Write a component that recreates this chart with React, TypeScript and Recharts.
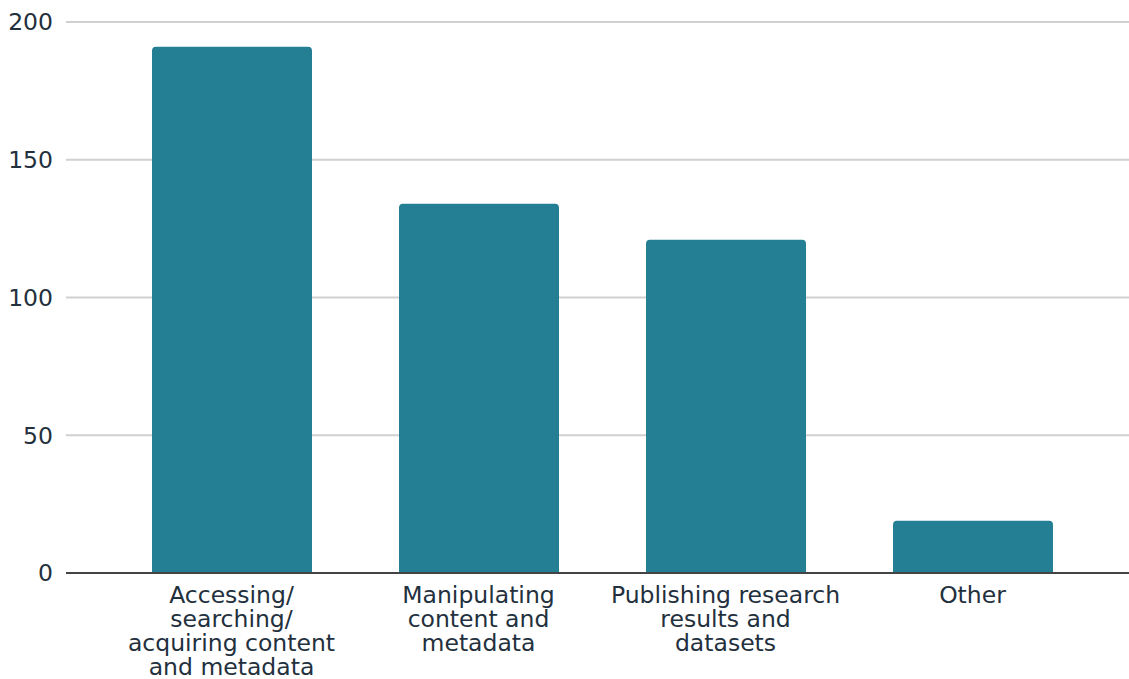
import { BarChart, Bar, XAxis, YAxis, CartesianGrid } from 'recharts'

const CATEGORIES = [
  'Accessing/searching/acquiring content and metadata',
  'Manipulating content and metadata',
  'Publishing research results and datasets',
  'Other',
]

// how the reference breaks each category label
const LABEL_LINES = [
  ['Accessing/', 'searching/', 'acquiring content', 'and metadata'],
  ['Manipulating', 'content and', 'metadata'],
  ['Publishing research', 'results and', 'datasets'],
  ['Other'],
]

const COUNTS = [191, 134, 121, 19]

const Y_TICKS = [0, 50, 100, 150, 200]

const TEXT_COLOR = '#23303d'
const FONT = '"DejaVu Sans", Verdana, sans-serif'

const data = CATEGORIES.map((name, i) => ({ name, value: COUNTS[i], idx: i }))

function CategoryTick({ x, y, index }: any) {
  const lines = LABEL_LINES[index] ?? []
  return (
    <text
      x={x}
      y={y}
      textAnchor="middle"
      fill={TEXT_COLOR}
      fontSize={23.5}
      fontFamily={FONT}
    >
      {lines.map((line, i) => (
        <tspan key={i} x={x} dy={i === 0 ? 29.5 : 24.3}>
          {line}
        </tspan>
      ))}
    </text>
  )
}

export default function App() {
  return (
    <div style={{ position: 'absolute', left: 0, top: 0, background: '#fff' }}>
      <BarChart
        width={1129}
        height={679}
        data={data}
        margin={{ top: 22, right: 0, left: 0, bottom: 0 }}
        barSize={160}
      >
        <CartesianGrid vertical={false} stroke="#d0d0d0" strokeWidth={2} />
        <XAxis
          dataKey="name"
          height={106}
          interval={0}
          padding={{ left: 42, right: 33 }}
          axisLine={{ stroke: '#444', strokeWidth: 2 }}
          tickLine={false}
          tickSize={0}
          tickMargin={0}
          tick={<CategoryTick />}
        />
        <YAxis
          width={66}
          domain={[0, 200]}
          ticks={Y_TICKS}
          axisLine={false}
          tickLine={false}
          tickSize={0}
          tickMargin={13}
          tick={{ fill: TEXT_COLOR, fontSize: 23.5, fontFamily: FONT }}
        />
        <Bar dataKey="value" fill="#247f94" radius={[4, 4, 0, 0]} isAnimationActive={false} />
      </BarChart>
    </div>
  )
}
